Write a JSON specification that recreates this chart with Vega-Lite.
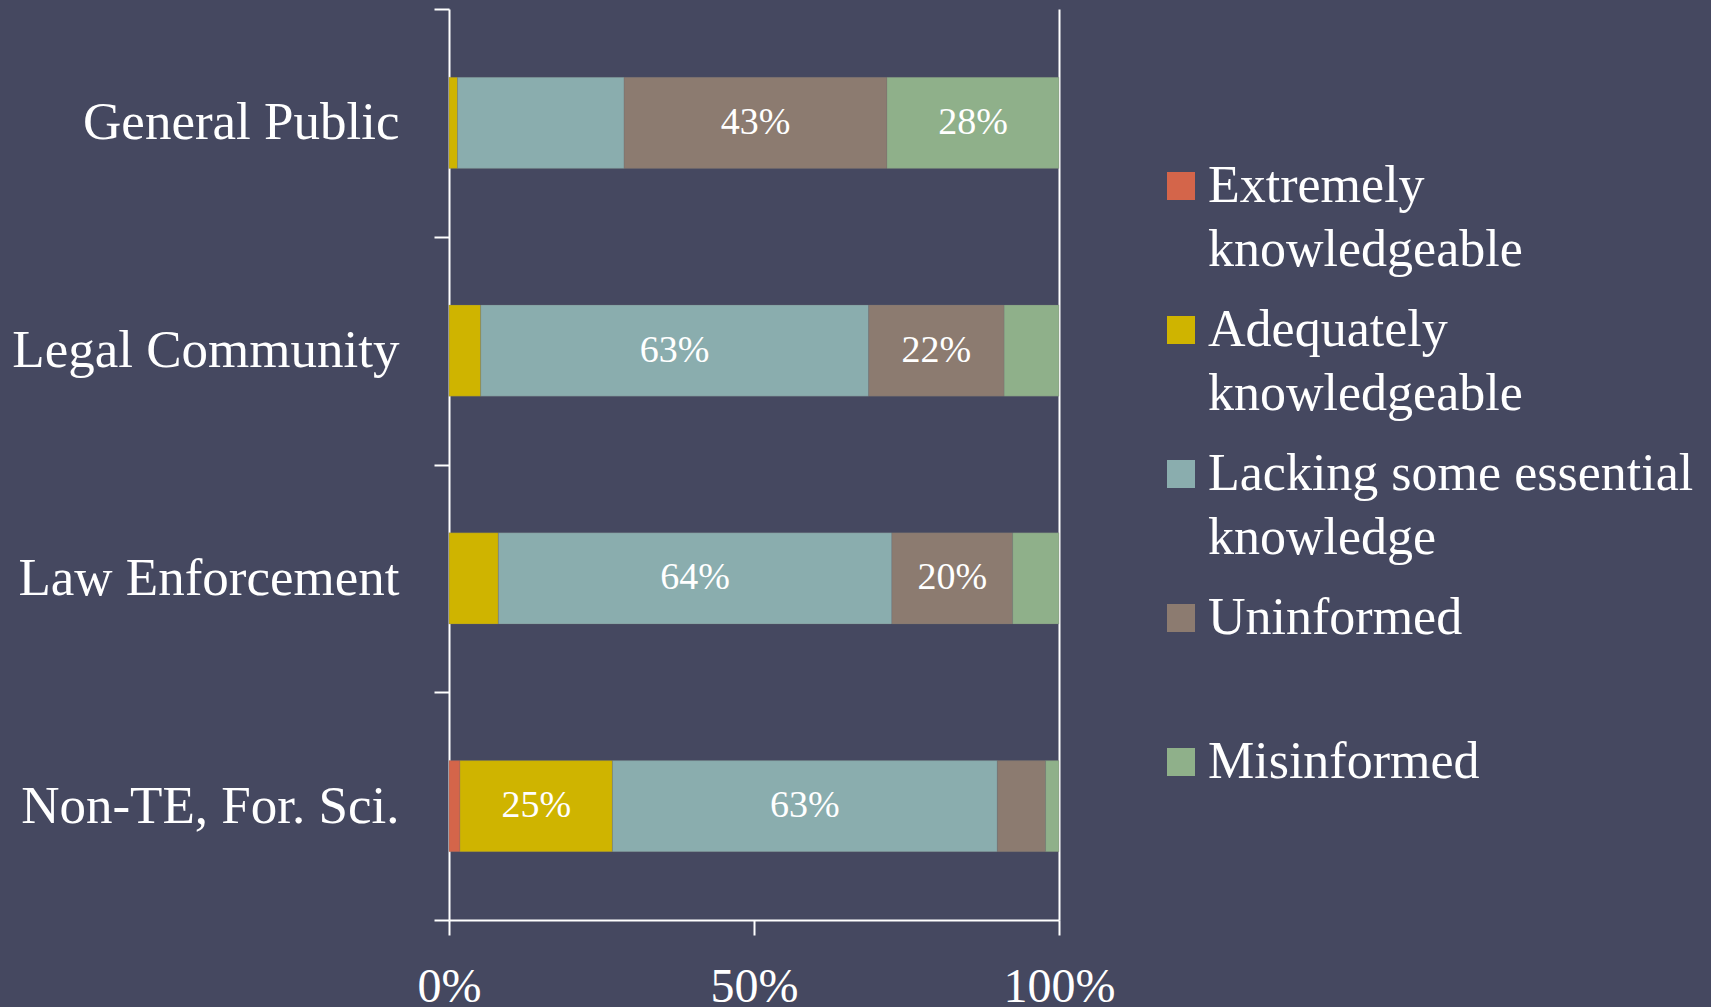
{
  "$schema": "https://vega.github.io/schema/vega-lite/v6.json",
  "autosize": "none",
  "width": 610,
  "height": 911,
  "padding": {"left": 449, "top": 9, "right": 652, "bottom": 87},
  "background": "#454860",
  "config": {
    "view": {"stroke": null},
    "font": "Liberation Serif",
    "style": {"guide-label": {"lineHeight": 64}}
  },
  "data": {
    "values": [
      {"group": "General Public", "level": "Extremely knowledgeable", "value": 0, "label": ""},
      {"group": "General Public", "level": "Adequately knowledgeable", "value": 1.4, "label": ""},
      {"group": "General Public", "level": "Lacking some essential knowledge", "value": 27.3, "label": ""},
      {"group": "General Public", "level": "Uninformed", "value": 43.1, "label": "43%"},
      {"group": "General Public", "level": "Misinformed", "value": 28.2, "label": "28%"},
      {"group": "Legal Community", "level": "Extremely knowledgeable", "value": 0, "label": ""},
      {"group": "Legal Community", "level": "Adequately knowledgeable", "value": 5.2, "label": ""},
      {"group": "Legal Community", "level": "Lacking some essential knowledge", "value": 63.6, "label": "63%"},
      {"group": "Legal Community", "level": "Uninformed", "value": 22.2, "label": "22%"},
      {"group": "Legal Community", "level": "Misinformed", "value": 9.0, "label": ""},
      {"group": "Law Enforcement", "level": "Extremely knowledgeable", "value": 0, "label": ""},
      {"group": "Law Enforcement", "level": "Adequately knowledgeable", "value": 8.1, "label": ""},
      {"group": "Law Enforcement", "level": "Lacking some essential knowledge", "value": 64.5, "label": "64%"},
      {"group": "Law Enforcement", "level": "Uninformed", "value": 19.8, "label": "20%"},
      {"group": "Law Enforcement", "level": "Misinformed", "value": 7.6, "label": ""},
      {"group": "Non-TE, For. Sci.", "level": "Extremely knowledgeable", "value": 1.8, "label": ""},
      {"group": "Non-TE, For. Sci.", "level": "Adequately knowledgeable", "value": 25.0, "label": "25%"},
      {"group": "Non-TE, For. Sci.", "level": "Lacking some essential knowledge", "value": 63.1, "label": "63%"},
      {"group": "Non-TE, For. Sci.", "level": "Uninformed", "value": 7.9, "label": ""},
      {"group": "Non-TE, For. Sci.", "level": "Misinformed", "value": 2.2, "label": ""}
    ]
  },
  "transform": [
    {"calculate": "indexof(['Extremely knowledgeable','Adequately knowledgeable','Lacking some essential knowledge','Uninformed','Misinformed'], datum.level)", "as": "k"},
    {"stack": "value", "groupby": ["group"], "sort": [{"field": "k", "order": "ascending"}], "as": ["x0", "x1"]},
    {"calculate": "(datum.x0 + datum.x1) / 2", "as": "mid"}
  ],
  "encoding": {
    "y": {
      "field": "group",
      "type": "nominal",
      "sort": ["General Public", "Legal Community", "Law Enforcement", "Non-TE, For. Sci."],
      "scale": {"paddingInner": 0, "paddingOuter": 0},
      "axis": {
        "title": null,
        "tickBand": "extent",
        "domainColor": "white",
        "domainWidth": 2,
        "tickColor": "white",
        "tickWidth": 2,
        "tickSize": 15,
        "labelColor": "white",
        "labelFont": "Liberation Serif",
        "labelFontSize": 53,
        "labelPadding": 35,
        "labelLimit": 0
      }
    }
  },
  "layer": [
    {
      "mark": {"type": "bar", "height": {"band": 0.4}, "stroke": "#777777", "strokeWidth": 0.5, "strokeOpacity": 0.5},
      "encoding": {
        "x": {
          "field": "x0",
          "type": "quantitative",
          "scale": {"domain": [0, 100], "nice": false},
          "axis": {
            "title": null,
            "values": [0, 50, 100],
            "labelExpr": "datum.value + '%'",
            "domainColor": "white",
            "domainWidth": 2,
            "tickColor": "white",
            "tickWidth": 2,
            "tickSize": 15,
            "labelColor": "white",
            "labelFont": "Liberation Serif",
            "labelFontSize": 48,
            "labelPadding": 28,
            "labelFlush": false,
            "grid": true,
            "gridColor": "white",
            "gridWidth": 2,
            "gridOpacity": {"condition": {"test": "datum.value == 100", "value": 1}, "value": 0}
          }
        },
        "x2": {"field": "x1"},
        "color": {
          "field": "level",
          "type": "nominal",
          "sort": ["Extremely knowledgeable", "Adequately knowledgeable", "Lacking some essential knowledge", "Uninformed", "Misinformed"],
          "scale": {
            "domain": ["Extremely knowledgeable", "Adequately knowledgeable", "Lacking some essential knowledge", "Uninformed", "Misinformed"],
            "range": ["#D4654A", "#CFB400", "#8AADAE", "#8C7B70", "#8FB08A"]
          },
          "legend": {
            "title": null,
            "orient": "none",
            "legendX": 706,
            "legendY": 151,
            "symbolType": "square",
            "symbolSize": 784,
            "symbolStrokeWidth": 0,
            "symbolOpacity": 1,
            "labelColor": "white",
            "labelFont": "Liberation Serif",
            "labelFontSize": 52,
            "labelLimit": 0,
            "labelOffset": 1,
            "labelBaseline": "middle",
            "rowPadding": 28,
            "labelExpr": "datum.label == 'Extremely knowledgeable' ? ['Extremely', 'knowledgeable'] : datum.label == 'Adequately knowledgeable' ? ['Adequately', 'knowledgeable'] : datum.label == 'Lacking some essential knowledge' ? ['Lacking some essential', 'knowledge'] : datum.label == 'Uninformed' ? ['Uninformed', ' '] : datum.label"
          }
        }
      }
    },
    {
      "mark": {"type": "text", "color": "white", "font": "Liberation Serif", "fontSize": 38, "baseline": "middle", "align": "center"},
      "encoding": {
        "x": {"field": "mid", "type": "quantitative"},
        "text": {"field": "label"}
      }
    }
  ]
}
